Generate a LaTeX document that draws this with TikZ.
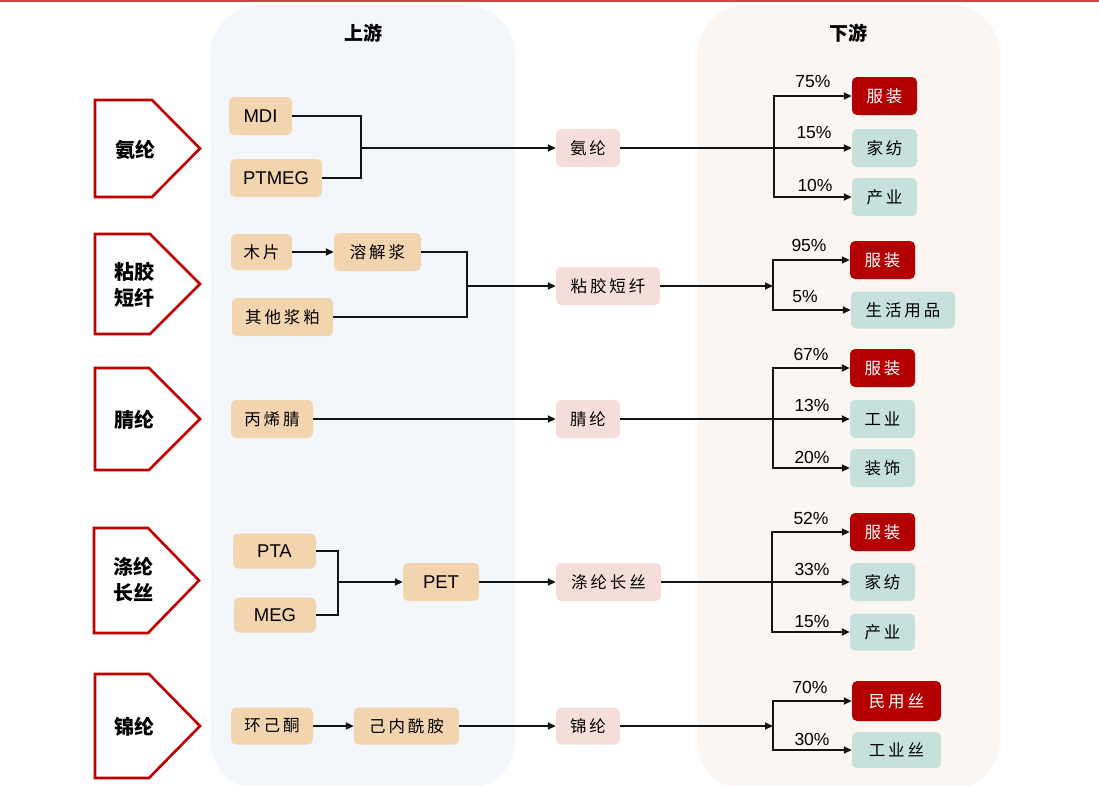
\documentclass[tikz,border=0pt]{standalone}
\usepackage{fontspec}
\setmainfont{Liberation Sans}
\newfontfamily\cjk{Noto Sans CJK SC}
\newfontfamily\cjksp{Noto Sans CJK SC}[LetterSpace=18]
\usetikzlibrary{arrows.meta}
\definecolor{topred}{RGB}{204,68,68}
\definecolor{uppanel}{RGB}{243,247,251}
\definecolor{downpanel}{RGB}{251,246,241}
\definecolor{tanc}{RGB}{242,212,174}
\definecolor{pinkc}{RGB}{245,222,217}
\definecolor{redc}{RGB}{179,0,0}
\definecolor{tealc}{RGB}{198,224,220}
\definecolor{pentred}{RGB}{192,0,0}
\definecolor{linec}{RGB}{20,20,20}
\newcommand\cn[1]{#1\hspace{-3pt}}
\tikzset{
  base/.style={rounded corners=5pt, inner sep=0pt, minimum height=38pt},
  upbox/.style={base, fill=tanc},
  upen/.style={upbox, font=\fontsize{18.5}{20}\selectfont},
  upcn/.style={upbox, font=\cjksp\fontsize{16.5}{18}\selectfont},
  midbox/.style={base, fill=pinkc, font=\cjksp\fontsize{16.5}{18}\selectfont},
  hotbox/.style={base, fill=redc, text=white, font=\cjksp\fontsize{16.5}{18}\selectfont},
  coolbox/.style={base, fill=tealc, font=\cjksp\fontsize{16.5}{18}\selectfont},
  pent/.style={draw=pentred, line width=2.6pt, fill=white},
  penttext/.style={font=\cjk\bfseries\fontsize{20}{26}\selectfont, align=center},
  title/.style={font=\cjk\bfseries\fontsize{19}{22}\selectfont},
  pct/.style={font=\fontsize{17.5}{19}\selectfont},
  conn/.style={draw=linec, line width=1.8pt},
  arr/.style={conn, -{Triangle[length=8pt,width=7pt]}},
}
\begin{document}
\begin{tikzpicture}[x=1pt,y=-1pt]
\useasboundingbox (0,0) rectangle (1099,785);
% top rule
\draw[topred, line width=2pt] (0,0.5) -- (1099,0.5);
% panels
\fill[uppanel, rounded corners=50pt] (210,5) rectangle (515,790);
\fill[downpanel, rounded corners=50pt] (697,5) rectangle (1000,790);
\node[title] (tup) at (363,33) {上游};
\node[title] (tdown) at (848,33) {下游};

% pentagons
\draw[pent] (95,100) -- (152,100) -- (200,148.5) -- (152,197) -- (95,197) -- cycle;
\node[penttext] (p1) at (135,150) {氨纶};
\draw[pent] (95,234) -- (150,234) -- (200,284) -- (150,334) -- (95,334) -- cycle;
\node[penttext] (p2) at (134,285) {粘胶\\短纤};
\draw[pent] (95,368) -- (149,368) -- (200,419) -- (149,470) -- (95,470) -- cycle;
\node[penttext] (p3) at (134,420) {腈纶};
\draw[pent] (94,528) -- (148,528) -- (199,580.5) -- (148,633) -- (94,633) -- cycle;
\node[penttext] (p4) at (133,580) {涤纶\\长丝};
\draw[pent] (95,674) -- (149,674) -- (200,726) -- (149,778) -- (95,778) -- cycle;
\node[penttext] (p5) at (134,727) {锦纶};

% ---------- row 1 ----------
\node[upen, minimum width=63pt] (mdi) at (260.5,116) {MDI};
\node[upen, minimum width=92pt] (ptmeg) at (276,178) {PTMEG};
\node[midbox, minimum width=64pt] (m1) at (588,148) {\cn{氨纶}};
\node[hotbox, minimum width=65pt] (d11) at (884.5,96) {\cn{服装}};
\node[coolbox, minimum width=65pt] (d12) at (884.5,148) {\cn{家纺}};
\node[coolbox, minimum width=65pt] (d13) at (884.5,197) {\cn{产业}};
\coordinate (j1) at (361,148);
\coordinate (b1) at (774,148);
\draw[conn] (mdi.east) -| (j1);
\draw[conn] (ptmeg.east) -| (j1);
\draw[arr] (j1) -- (m1.west);
\draw[arr] (m1.east) -- (d12.west);
\draw[arr] (b1) |- (d11.west);
\draw[arr] (b1) |- (d13.west);
\node[pct] (l11) at (813,82) {75\%};
\node[pct] (l12) at (814,133) {15\%};
\node[pct] (l13) at (815,185) {10\%};

% ---------- row 2 ----------
\node[upcn, minimum width=61pt, minimum height=36pt] (mp) at (261.5,252) {\cn{木片}};
\node[upcn, minimum width=87pt] (rjj) at (377.5,252) {\cn{溶解浆}};
\node[upcn, minimum width=101pt] (qt) at (282.5,317) {\cn{其他浆粕}};
\node[midbox, minimum width=104pt] (m2) at (608,286) {\cn{粘胶短纤}};
\node[hotbox, minimum width=65pt] (d21) at (882.5,260) {\cn{服装}};
\node[coolbox, minimum width=104pt, minimum height=37pt] (d22) at (903,310) {\cn{生活用品}};
\coordinate (j2) at (467,286);
\coordinate (b2) at (773,286);
\draw[arr] (mp.east) -- (rjj.west);
\draw[conn] (rjj.east) -| (j2);
\draw[conn] (qt.east) -| (j2);
\draw[arr] (j2) -- (m2.west);
\draw[arr] (m2.east) -- (b2);
\draw[arr] (b2) |- (d21.west);
\draw[arr] (b2) |- (d22.west);
\node[pct] (l21) at (809,245) {95\%};
\node[pct] (l22) at (805,297) {5\%};

% ---------- row 3 ----------
\node[upcn, minimum width=82pt] (bxj) at (272,419) {\cn{丙烯腈}};
\node[midbox, minimum width=64pt] (m3) at (588,419) {\cn{腈纶}};
\node[hotbox, minimum width=65pt] (d31) at (882.5,368) {\cn{服装}};
\node[coolbox, minimum width=65pt] (d32) at (882.5,419) {\cn{工业}};
\node[coolbox, minimum width=65pt] (d33) at (882.5,468) {\cn{装饰}};
\coordinate (b3) at (773,419);
\draw[arr] (bxj.east) -- (m3.west);
\draw[arr] (m3.east) -- (d32.west);
\draw[arr] (b3) |- (d31.west);
\draw[arr] (b3) |- (d33.west);
\node[pct] (l31) at (811,354) {67\%};
\node[pct] (l32) at (812,405) {13\%};
\node[pct] (l33) at (812,457) {20\%};

% ---------- row 4 ----------
\node[upen, minimum width=83pt, minimum height=35pt] (pta) at (274.5,551) {PTA};
\node[upen, minimum width=82pt, minimum height=35pt] (meg) at (275,615) {MEG};
\node[upen, minimum width=76pt] (pet) at (441,582) {PET};
\node[midbox, minimum width=105pt] (m4) at (608.5,582) {\cn{涤纶长丝}};
\node[hotbox, minimum width=65pt] (d41) at (882.5,532) {\cn{服装}};
\node[coolbox, minimum width=65pt] (d42) at (882.5,582) {\cn{家纺}};
\node[coolbox, minimum width=65pt, minimum height=37pt] (d43) at (882.5,632) {\cn{产业}};
\coordinate (j4) at (338,582);
\coordinate (b4) at (772,582);
\draw[conn] (pta.east) -| (j4);
\draw[conn] (meg.east) -| (j4);
\draw[arr] (j4) -- (pet.west);
\draw[arr] (pet.east) -- (m4.west);
\draw[arr] (m4.east) -- (d42.west);
\draw[arr] (b4) |- (d41.west);
\draw[arr] (b4) |- (d43.west);
\node[pct] (l41) at (811,518) {52\%};
\node[pct] (l42) at (812,569) {33\%};
\node[pct] (l43) at (812,622) {15\%};

% ---------- row 5 ----------
\node[upcn, minimum width=82pt, minimum height=37pt] (hjt) at (272,726) {\cn{环己酮}};
\node[upcn, minimum width=105pt, minimum height=37pt] (jnx) at (406.5,726) {\cn{己内酰胺}};
\node[midbox, minimum width=64pt, minimum height=37pt] (m5) at (588,726) {\cn{锦纶}};
\node[hotbox, minimum width=89pt, minimum height=40pt] (d51) at (896.5,701) {\cn{民用丝}};
\node[coolbox, minimum width=89pt, minimum height=36pt] (d52) at (896.5,750) {\cn{工业丝}};
\coordinate (b5) at (773,726);
\draw[arr] (hjt.east) -- (jnx.west);
\draw[arr] (jnx.east) -- (m5.west);
\draw[arr] (m5.east) -- (b5);
\draw[arr] (b5) |- (d51.west);
\draw[arr] (b5) |- (d52.west);
\node[pct] (l51) at (810,687) {70\%};
\node[pct] (l52) at (812,739) {30\%};
\end{tikzpicture}
\end{document}
